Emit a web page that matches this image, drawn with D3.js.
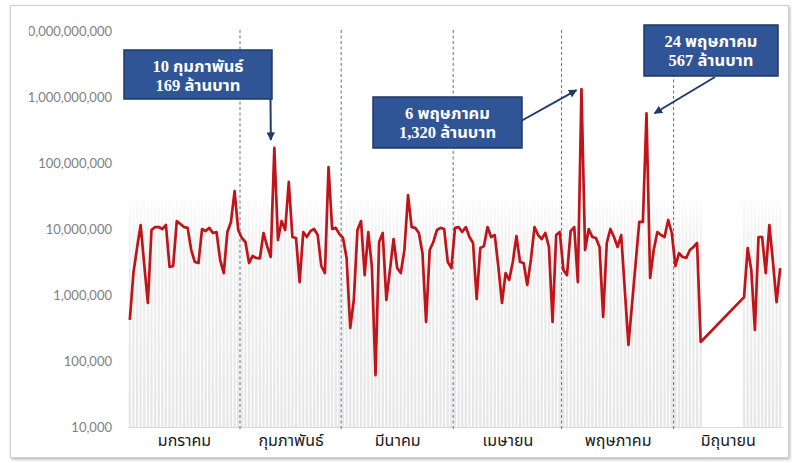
<!DOCTYPE html>
<html>
<head>
<meta charset="utf-8">
<script src="https://cdn.jsdelivr.net/npm/d3@7"></script>
<style>
  html, body { margin: 0; padding: 0; background: #ffffff; }
  svg { display: block; }
</style>
</head>
<body>
<svg id="chart" width="792" height="463"></svg>
<script>
// Daily trading value (baht), one array per month, index 0 = day 1
const janValues = [420000, 2150000, 5150000, 11500000, 2850000, 757000, 9660000, 10700000, 10700000, 10000000,
  11500000, 2660000, 2750000, 13200000, 11900000, 10700000, 10400000, 4800000, 3160000, 3050000,
  10000000, 9300000, 10400000, 8700000, 9000000, 3400000, 2150000, 9000000, 12800000, 37600000, 9660000];
const febValues = [7300000, 6350000, 3050000, 3900000, 3640000, 3600000, 8700000, 5500000, 3770000, 169000000,
  6800000, 13200000, 9660000, 51600000, 7560000, 7300000, 1570000, 9000000, 7560000, 9300000,
  10000000, 8100000, 2750000, 2150000, 87000000, 10000000, 10400000, 8400000];
const marValues = [7300000, 3640000, 316000, 840000, 9660000, 13200000, 2000000, 9000000, 2660000, 61000,
  6350000, 8700000, 840000, 2400000, 7050000, 2560000, 2150000, 4800000, 32700000, 10700000,
  10400000, 8700000, 4300000, 390000, 4800000, 6350000, 9660000, 10400000, 10000000, 3160000, 2560000];
const aprValues = [10400000, 10700000, 9000000, 10700000, 7560000, 6130000, 870000, 5150000, 5500000, 10700000,
  7560000, 8100000, 2660000, 757000, 2150000, 1690000, 3160000, 7830000, 3160000, 3050000,
  1420000, 3400000, 10700000, 8100000, 7050000, 8700000, 5340000, 390000, 8100000, 9000000];
const mayValues = [2400000, 2000000, 9300000, 10700000, 1570000, 1320000000, 4800000, 10000000, 7560000, 7300000,
  5340000, 464000, 6130000, 10000000, 7560000, 5340000, 8100000, 1190000, 175000, 730000,
  3050000, 12800000, 12800000, 567000000, 1810000, 4800000, 9000000, 8100000, 7560000, 13700000, 8700000];
// June has no trading records between the 9th and the 19th
const junDays = [1, 2, 3, 4, 5, 6, 7, 8, 20, 21, 22, 23, 24, 25, 26, 27, 28, 29, 30];
const junValues = [2750000, 4300000, 3770000, 3640000, 4800000, 5340000, 6130000, 194000,
  930000, 5150000, 2400000, 295000, 7560000, 7560000, 2150000, 11500000, 3160000, 780000, 2560000];

const monthLabels = ["มกราคม", "กุมภาพันธ์", "มีนาคม", "เมษายน", "พฤษภาคม", "มิถุนายน"];
const yTickValues = [1e4, 1e5, 1e6, 1e7, 1e8, 1e9, 1e10];

// Call-outs for the three largest days
const calloutDates = ["2021-02-10", "2021-05-06", "2021-05-24"];
const calloutLines = [
  ["10 กุมภาพันธ์", "169 ล้านบาท"],
  ["6 พฤษภาคม", "1,320 ล้านบาท"],
  ["24 พฤษภาคม", "567 ล้านบาท"]
];

// ---- assemble the daily series ----
const series = [];
[janValues, febValues, marValues, aprValues, mayValues].forEach((vals, m) => {
  vals.forEach((v, i) => series.push({ date: new Date(2021, m, i + 1), value: v }));
});
junDays.forEach((d, i) => series.push({ date: new Date(2021, 5, d), value: junValues[i] }));

const svg = d3.select("#chart");
const W = 792, H = 463;
const axisX = 116;

// drop shadow for the outer frame
const defs = svg.append("defs");
const shadow = defs.append("filter").attr("id", "frameShadow")
  .attr("x", "-5%").attr("y", "-5%").attr("width", "110%").attr("height", "110%");
shadow.append("feDropShadow").attr("dx", 1).attr("dy", 1.5).attr("stdDeviation", 1.6)
  .attr("flood-color", "#000").attr("flood-opacity", 0.28);

const grad = defs.append("linearGradient").attr("id", "colFill")
  .attr("gradientUnits", "userSpaceOnUse").attr("x1", 0).attr("x2", 0)
  .attr("y1", 188).attr("y2", 427);
grad.append("stop").attr("offset", "0%").attr("stop-color", "#ffffff");
grad.append("stop").attr("offset", "22%").attr("stop-color", "#f1f1f1");
grad.append("stop").attr("offset", "100%").attr("stop-color", "#e5e5e5");

// the widest tick label runs past the frame's inner edge and is cut there
defs.append("clipPath").attr("id", "labelClip")
  .append("rect").attr("x", 28.8 - axisX).attr("y", 0).attr("width", axisX - 28.8).attr("height", H);

defs.append("marker").attr("id", "arrowHead")
  .attr("viewBox", "0 0 10 10").attr("refX", 9).attr("refY", 5)
  .attr("markerWidth", 4.2).attr("markerHeight", 4.2).attr("orient", "auto")
  .append("path").attr("d", "M0,0 L10,5 L0,10 Z").attr("fill", "#1f3b6e");

svg.append("rect").attr("x", 10.5).attr("y", 5.5).attr("width", 778).attr("height", 452)
  .attr("fill", "#ffffff").attr("stroke", "#cfcfcf").attr("stroke-width", 1)
  .attr("filter", "url(#frameShadow)");

// ---- scales ----
const x = d3.scaleTime()
  .domain([new Date(2021, 0, 1), new Date(2021, 6, 1)])
  .range([128, 782]);
const y = d3.scaleLog().domain([1e4, 1e10]).range([427, 31]);
const mid = d => d3.timeHour.offset(d, 12);
const slot = x(new Date(2021, 0, 2)) - x(new Date(2021, 0, 1));

// ---- faint daily columns behind the line ----
svg.append("g").selectAll("rect").data(series).join("rect")
  .attr("x", d => x(mid(d.date)) - slot * 0.32)
  .attr("width", slot * 0.64)
  .attr("y", y(3e7))
  .attr("height", y(1e4) - y(3e7))
  .attr("fill", "url(#colFill)");

// ---- y axis ----
const yAxis = svg.append("g")
  .attr("transform", `translate(${axisX},0)`)
  .attr("clip-path", "url(#labelClip)")
  .call(d3.axisLeft(y).tickValues(yTickValues).tickFormat(d3.format(",")).tickSize(0).tickPadding(4));
yAxis.select(".domain").remove();
yAxis.selectAll("text")
  .attr("fill", "#7f7f7f")
  .style("font-family", "Lato, 'Open Sans', sans-serif")
  .style("font-size", "13px");

// ---- x axis with month names ----
const monthStarts = d3.range(0, 6).map(m => new Date(2021, m, 1));
const monthMids = monthStarts.map((d, i) => new Date((+d + +new Date(2021, i + 1, 1)) / 2));
const xAxis = svg.append("g")
  .attr("transform", "translate(0,427)")
  .call(d3.axisBottom(x).tickValues(monthMids).tickFormat((d, i) => monthLabels[i]).tickSize(0).tickPadding(8));
xAxis.select(".domain").attr("stroke", "#d9d9d9").attr("stroke-width", 1);
xAxis.selectAll("text")
  .attr("fill", "#1a1a1a")
  .style("font-family", "'Noto Sans Thai', 'Noto Sans', 'DejaVu Sans', sans-serif")
  .style("font-size", "16px");

// ---- month dividers ----
svg.append("g").selectAll("line").data(monthStarts.slice(1)).join("line")
  .attr("x1", d => x(d)).attr("x2", d => x(d))
  .attr("y1", 30).attr("y2", 430)
  .attr("stroke", "#5d6f8a").attr("stroke-width", 1).attr("stroke-dasharray", "3,2.5");

// ---- value line; gaps in dates are bridged by a straight segment ----
const line = d3.line().x(d => x(mid(d.date))).y(d => y(d.value));
svg.append("path").datum(series)
  .attr("fill", "none").attr("stroke", "#c0141b").attr("stroke-width", 2.7)
  .attr("stroke-linejoin", "round").attr("d", line);

// ---- call-out boxes ----
const boxes = [
  { x: 124, y: 50, w: 148, h: 49, from: [270.5, 99], dx: -3.5, dy: -8 },
  { x: 373, y: 97, w: 149, h: 51, from: [521, 121], dx: -5, dy: 1 },
  { x: 644, y: 25, w: 134, h: 51, from: [715, 77], dx: 8, dy: 0 }
];
const parseDay = d3.timeParse("%Y-%m-%d");
calloutDates.forEach((ds, i) => {
  const b = boxes[i];
  const pt = series.find(s => +s.date === +parseDay(ds));
  const tx = x(mid(pt.date)) + b.dx, ty = y(pt.value) + b.dy;
  svg.append("line")
    .attr("x1", b.from[0]).attr("y1", b.from[1]).attr("x2", tx).attr("y2", ty)
    .attr("stroke", "#1f3b6e").attr("stroke-width", 2).attr("marker-end", "url(#arrowHead)");
  svg.append("rect").attr("x", b.x).attr("y", b.y).attr("width", b.w).attr("height", b.h)
    .attr("fill", "#2f5597").attr("stroke", "#1f3864").attr("stroke-width", 1.5);
  const t = svg.append("text")
    .attr("text-anchor", "middle").attr("fill", "#ffffff")
    .style("font-family", "'Liberation Serif', 'Noto Sans Thai', serif")
    .style("font-weight", "bold").style("font-size", "16.5px");
  calloutLines[i].forEach((s, k) => {
    t.append("tspan").attr("x", b.x + b.w / 2).attr("y", b.y + 22 + k * 19).text(s);
  });
});
</script>
</body>
</html>
